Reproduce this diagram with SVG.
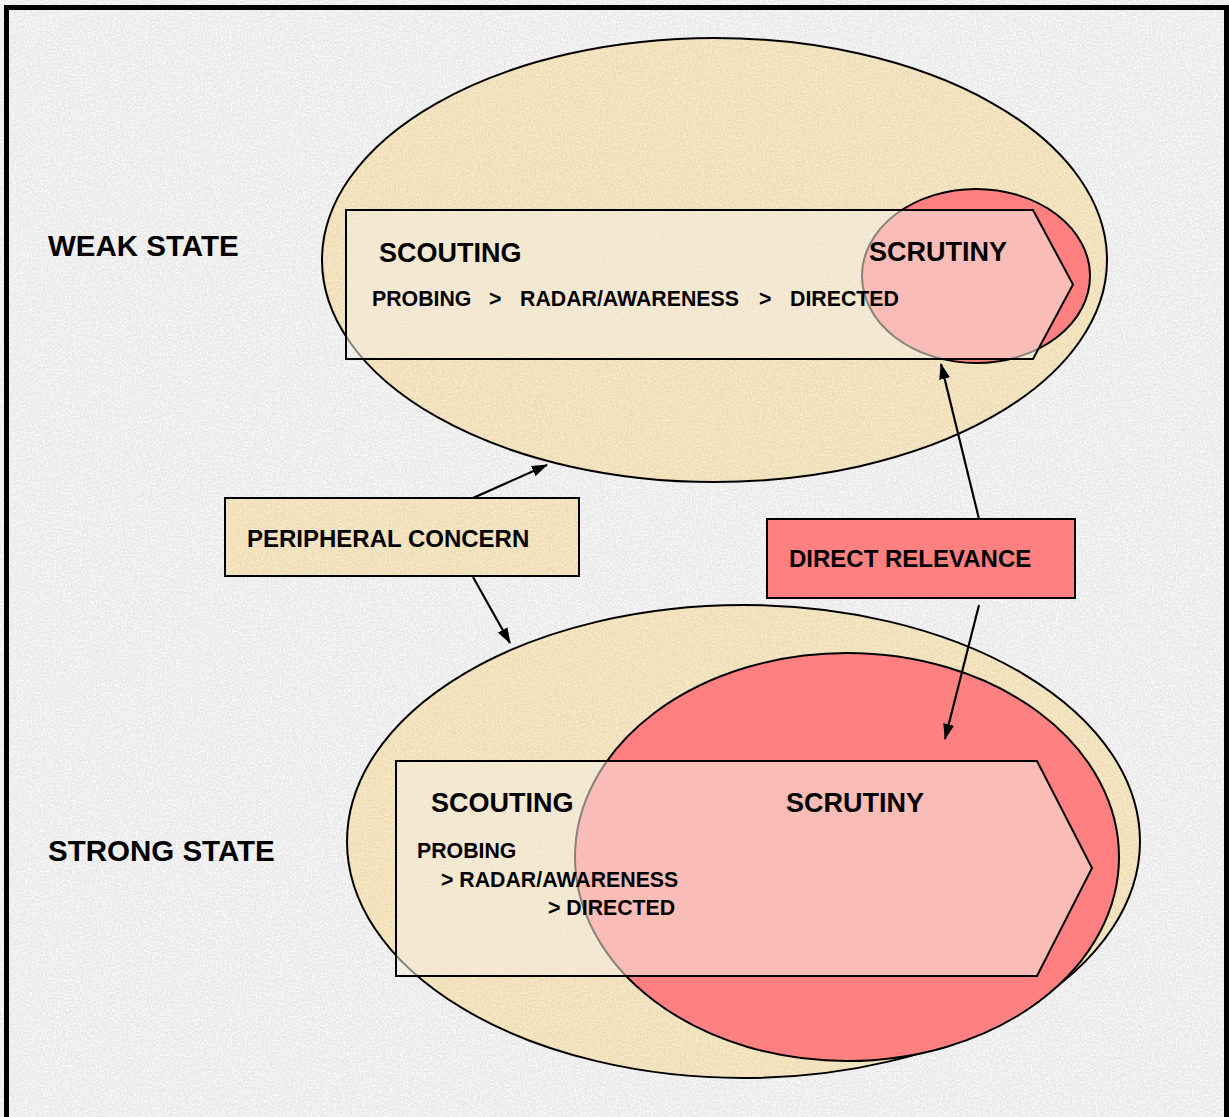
<svg xmlns="http://www.w3.org/2000/svg" width="1229" height="1117" viewBox="0 0 1229 1117">
  <defs>
    <style>
      .lbl { font-family: "Liberation Sans", Arial, sans-serif; font-weight: bold; fill: #000; }
      .state { font-size: 29.5px; }
      .head { font-size: 27px; }
      .sub { font-size: 21.3px; }
      .box { font-size: 24px; }
      .tan { fill: #EFDCAF; stroke: #000; stroke-width: 2; }
      .red { fill: #FF8080; stroke: #000; stroke-width: 2; }
      .chev { fill: #F4ECE2; fill-opacity: 0.55; stroke: #000; stroke-width: 2; stroke-linejoin: miter; }
      .grain { fill: #000; filter: url(#paper); }
      .conn line { stroke: #000; stroke-width: 2.2; marker-end: url(#head); }
    </style>
    <!-- soft speckle used as a paper texture -->
    <filter id="paper" x="0" y="0" width="100%" height="100%">
      <feTurbulence type="fractalNoise" baseFrequency="0.55" numOctaves="2" seed="11" result="n"/>
      <feColorMatrix in="n" type="matrix" values="0 0 0 0 1  0 0 0 0 1  0 0 0 0 1  1.8 0 0 0 -0.6" result="w"/>
      <feComposite in="w" in2="SourceAlpha" operator="in"/>
    </filter>
    <marker id="head" viewBox="0 0 16 11" refX="15" refY="5.5" markerWidth="16" markerHeight="11" markerUnits="userSpaceOnUse" orient="auto">
      <path d="M0,0 L16,5.5 L0,11 Z" fill="#000"/>
    </marker>
  </defs>

  <!-- page background -->
  <rect x="0" y="0" width="1229" height="1117" fill="#E8E8E8"/>
  <rect x="0" y="0" width="1229" height="1117" class="grain"/>
  <path d="M6.5,1117 V7.5 H1226.5 V1117" fill="none" stroke="#000" stroke-width="5"/>

  <!-- weak state -->
  <g id="weak-state">
    <ellipse class="tan" cx="714.5" cy="260" rx="392.5" ry="222"/>
    <ellipse class="grain" cx="714.5" cy="260" rx="391" ry="220.5" opacity="0.6"/>
    <ellipse class="red" cx="976" cy="276" rx="114" ry="87"/>
    <polygon class="chev" points="346,210 1033,210 1073,284.5 1033,359 346,359"/>
    <text class="lbl head" x="379" y="262">SCOUTING</text>
    <text class="lbl head" x="869" y="261">SCRUTINY</text>
    <text class="lbl sub" x="372" y="306">PROBING</text>
    <text class="lbl sub" x="489" y="306">&gt;</text>
    <text class="lbl sub" x="520" y="306">RADAR/AWARENESS</text>
    <text class="lbl sub" x="759" y="306">&gt;</text>
    <text class="lbl sub" x="790" y="306">DIRECTED</text>
  </g>
  <text id="weak-state-label" class="lbl state" x="48" y="256">WEAK STATE</text>

  <!-- strong state -->
  <g id="strong-state">
    <ellipse class="tan" cx="743.5" cy="841.5" rx="396.5" ry="236.5"/>
    <ellipse class="grain" cx="743.5" cy="841.5" rx="395" ry="235" opacity="0.6"/>
    <ellipse class="red" cx="847" cy="857" rx="272" ry="204"/>
    <polygon class="chev" points="396,761 1037,761 1092,868 1037,976 396,976"/>
    <text class="lbl head" x="431" y="812">SCOUTING</text>
    <text class="lbl head" x="786" y="812">SCRUTINY</text>
    <text class="lbl sub" x="417" y="858">PROBING</text>
    <text class="lbl sub" x="441" y="887">&gt; RADAR/AWARENESS</text>
    <text class="lbl sub" x="548" y="915">&gt; DIRECTED</text>
  </g>
  <text id="strong-state-label" class="lbl state" x="48" y="861">STRONG STATE</text>

  <!-- side boxes -->
  <g id="peripheral-concern">
    <rect class="tan" x="225" y="498" width="354" height="78"/>
    <rect class="grain" x="226" y="499" width="352" height="76" opacity="0.6"/>
    <text class="lbl box" x="247" y="547">PERIPHERAL CONCERN</text>
  </g>
  <g id="direct-relevance">
    <rect class="red" x="767" y="519" width="308" height="79"/>
    <text class="lbl box" x="789" y="567">DIRECT RELEVANCE</text>
  </g>

  <!-- connectors -->
  <g id="connectors" class="conn">
    <line x1="473" y1="498" x2="547" y2="465"/>
    <line x1="473" y1="577" x2="510" y2="643"/>
    <line x1="979" y1="519" x2="941" y2="364"/>
    <line x1="979" y1="605" x2="945" y2="739"/>
  </g>
</svg>
